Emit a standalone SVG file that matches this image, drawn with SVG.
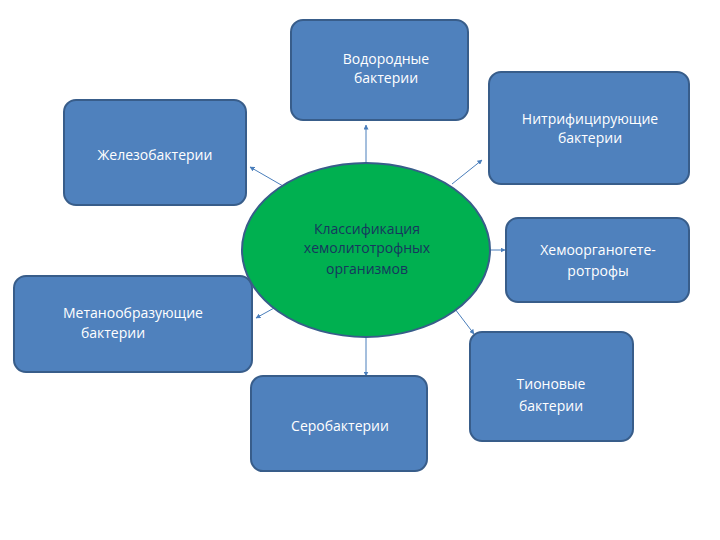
<svg xmlns="http://www.w3.org/2000/svg" width="720" height="540" viewBox="0 0 720 540">
<defs>
<marker id="ah" viewBox="0 0 10 10" refX="9" refY="5" markerWidth="5" markerHeight="5" orient="auto"><path d="M0,0L10,5L0,10z" fill="#4a7ebb"/></marker>
<style>
.b{fill:#4f81bd;stroke:#385d8a;stroke-width:2}
.t{font-family:"Open Sans","Liberation Sans",sans-serif;font-size:14px;fill:#fff;text-anchor:middle}
.d{fill:#17375e}
.c{stroke:#4a7ebb;stroke-width:1;fill:none;marker-end:url(#ah)}
</style>
</defs>
<rect width="720" height="540" fill="#fff"/>
<g id="connectors">
<line class="c" x1="366" y1="163" x2="366" y2="125"/>
<line class="c" x1="283" y1="186" x2="250" y2="167"/>
<line class="c" x1="452" y1="184" x2="482" y2="160"/>
<line class="c" x1="490" y1="250" x2="505" y2="250"/>
<line class="c" x1="285" y1="302" x2="256" y2="318"/>
<line class="c" x1="455" y1="309" x2="474" y2="334"/>
<line class="c" x1="366" y1="337" x2="366" y2="376"/>
</g>
<g id="n1"><rect class="b" x="291" y="20" width="177" height="100" rx="12"/><text class="t" x="386" y="64">Водородные</text><text class="t" x="386" y="83">бактерии</text></g>
<g id="n2"><rect class="b" x="489" y="72" width="200" height="112" rx="12"/><text class="t" x="590" y="124">Нитрифицирующие</text><text class="t" x="590" y="143">бактерии</text></g>
<g id="n3"><rect class="b" x="64" y="100" width="182" height="105" rx="12"/><text class="t" x="155" y="160">Железобактерии</text></g>
<g id="n4"><rect class="b" x="506" y="218" width="183" height="84" rx="12"/><text class="t" x="598" y="255">Хемоорганогете-</text><text class="t" x="598" y="276">ротрофы</text></g>
<g id="n5"><rect class="b" x="470" y="332" width="163" height="109" rx="12"/><text class="t" x="551" y="389">Тионовые</text><text class="t" x="551" y="411">бактерии</text></g>
<g id="n6"><rect class="b" x="14" y="276" width="238" height="96" rx="12"/><text class="t" x="133" y="318">Метанообразующие</text><text class="t" x="113" y="338">бактерии</text></g>
<g id="n7"><rect class="b" x="251" y="376" width="176" height="95" rx="12"/><text class="t" x="340" y="431">Серобактерии</text></g>
<g id="center"><ellipse cx="366" cy="250" rx="124" ry="87" fill="#00b050" stroke="#385d8a" stroke-width="2"/><text class="t d" x="367" y="234">Классификация</text><text class="t d" x="367" y="253">хемолитотрофных</text><text class="t d" x="367" y="274">организмов</text></g>
</svg>
